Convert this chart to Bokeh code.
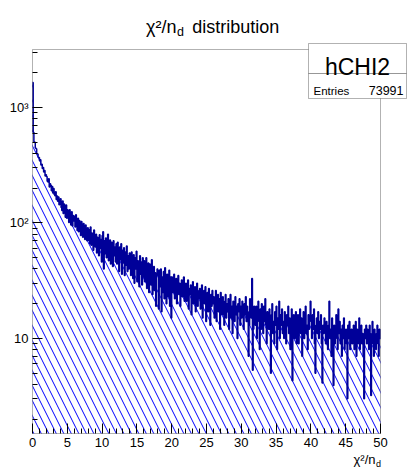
import numpy as np
from bokeh.plotting import figure
from bokeh.models import Label, BoxAnnotation, FixedTicker, Range1d
from bokeh.embed import file_html
from bokeh.resources import INLINE

# ---------------- data ----------------
x_lo = 0.0
x_hi = 50.0
y_lo = 1.5
y_hi = 3180.0
bin_counts = [
    # 0-2
    1650, 610, 505, 500, 445, 440, 400, 395, 370, 368, 345, 352, 318, 322, 296, 302, 276, 284, 255, 262,
    # 2-4
    252, 230, 226, 241, 205, 218, 212, 190, 207, 182, 199, 176, 172, 186, 160, 171, 154, 168, 144, 152,
    # 4-6
    162, 136, 128, 155, 121, 146, 131, 112, 143, 110, 130, 124, 101, 130, 118, 96, 125, 94, 116, 104,
    # 6-8
    114, 92, 118, 96, 86, 110, 84, 105, 93, 78, 103, 88, 75, 99, 84, 72, 96, 81, 70, 91,
    # 8-10
    88, 70, 66, 92, 64, 82, 76, 58, 87, 68, 62, 80, 55, 75, 70, 52, 79, 60, 72, 46,
    # 10-12
    78, 84, 40, 70, 54, 74, 50, 63, 80, 47, 60, 71, 44, 68, 55, 42, 70, 52, 62, 46,
    # 12-14
    66, 44, 68, 52, 38, 62, 48, 66, 36, 58, 45, 61, 35, 56, 43, 63, 38, 52, 40, 55,
    # 14-16
    54, 35, 56, 43, 33, 53, 30, 50, 40, 57, 31, 47, 38, 28, 52, 36, 46, 29, 50, 34,
    # 16-18
    47, 31, 42, 50, 27, 39, 45, 25, 44, 34, 29, 48, 24, 38, 42, 26, 37, 19, 36, 40,
    # 18-20
    35, 18, 39, 28, 40, 17, 34, 25, 38, 22, 41, 27, 20, 36, 30, 23, 39, 19, 34, 15,
    # 20-22
    34, 25, 31, 36, 22, 29, 33, 20, 27, 35, 24, 30, 19, 28, 32, 23, 26, 34, 21, 27,
    # 22-24
    30, 21, 25, 32, 18, 27, 24, 29, 16, 26, 31, 20, 23, 28, 17, 25, 30, 19, 22, 26,
    # 24-26
    27, 18, 24, 29, 15, 22, 26, 20, 28, 14, 23, 25, 17, 27, 21, 13, 24, 19, 26, 20,
    # 26-28
    23, 15, 21, 26, 14, 20, 24, 17, 22, 12, 25, 19, 16, 23, 18, 13, 21, 24, 15, 20,
    # 28-30
    17, 22, 12, 20, 24, 15, 19, 11, 21, 18, 14, 23, 16, 19, 10, 20, 17, 22, 13, 19,
    # 30-32
    15, 21, 18, 12, 20, 16, 23, 14, 19, 17, 7, 13, 22, 18, 15, 33, 5.3, 12, 19, 16,
    # 32-34
    13, 19, 10, 17, 21, 14, 8, 18, 12, 20, 16, 11, 19, 14, 22, 13, 9, 17, 15, 12,
    # 34-36
    18, 12, 5, 16, 20, 11, 14, 9, 17, 13, 19, 8, 15, 12, 21, 10, 16, 13, 18, 11,
    # 36-38
    14, 10, 17, 12, 9, 16, 13, 19, 11, 15, 8, 14, 18, 4.3, 12, 16, 10, 13, 17, 9,
    # 38-40
    13, 16, 9, 14, 18, 11, 15, 7, 12, 17, 10, 14, 19, 11, 13, 8, 16, 12, 15, 21,
    # 40-42
    14, 10, 16, 12, 18, 9, 5, 13, 15, 11, 17, 10, 14, 12, 16, 9, 4.1, 13, 11, 15,
    # 42-44
    12, 9, 14, 11, 8, 13, 21, 10, 12, 7, 15, 11, 3.9, 13, 9, 12, 16, 10, 8, 18,
    # 44-46
    11, 14, 9, 12, 7, 13, 10, 15, 8, 11, 12, 9, 3, 13, 10, 14, 8, 11, 12, 9,
    # 46-48
    10, 13, 8, 11, 14, 7, 12, 9, 11, 15, 8, 10, 13, 9, 11, 7, 3, 12, 10, 13,
    # 48-50
    9, 12, 10, 8, 13, 11, 3.2, 10, 14, 9, 7, 12, 10, 8, 11, 13, 9, 7, 12, 10,
]
hist_name = "hCHI2"
entries_label = "Entries"
entries_value = "73991"
x_ticks_major = [0, 5, 10, 15, 20, 25, 30, 35, 40, 45, 50]
y_ticks_major = [10, 100, 1000]
y_tick_labels = ["10", "10\u00b2", "10\u00b3"]
title_main = "\u03c7\u00b2/n"
title_sub = "d"
title_rest = "distribution"
xlabel_main = "\u03c7\u00b2/n"
xlabel_sub = "d"

# ---------------- layout geometry (pixels) ----------------
FONT = "Liberation Sans"
W, H = 407, 468
FL, FR, FT, FB = 32, 380, 49, 433   # inner plotting box

ly_lo, ly_hi = np.log10(y_lo), np.log10(y_hi)


def px_x(px):
    return x_lo + (px - FL) * (x_hi - x_lo) / (FR - FL)


def px_y(py):
    return 10 ** (ly_lo + (FB - py) * (ly_hi - ly_lo) / (FB - FT))


p = figure(width=W, height=H, y_axis_type="log", title=None,
           x_range=Range1d(px_x(0), px_x(W)), y_range=Range1d(px_y(H), px_y(0)),
           output_backend="svg", toolbar_location=None, min_border=0)
p.background_fill_color = "white"
p.border_fill_color = "white"
p.outline_line_color = None
p.xgrid.visible = False
p.ygrid.visible = False

edges = np.linspace(x_lo, x_hi, len(bin_counts) + 1)
yv = list(bin_counts) + [bin_counts[-1]]

p.varea_step(x=edges, y1=y_lo, y2=yv, step_mode="after",
             fill_alpha=0, hatch_pattern="\\", hatch_color="#0000ff",
             hatch_scale=15, hatch_weight=1)
p.step(x=edges, y=yv, mode="after", line_color="#000099", line_width=1.5)

# frame box
p.add_layout(BoxAnnotation(left=x_lo, right=x_hi, bottom=y_lo, top=y_hi,
                           fill_alpha=0, line_color="black", line_width=1))

# axes fixed at the inner box edges
p.xaxis.fixed_location = y_lo
p.yaxis.fixed_location = x_lo
minor_x = [v for v in range(int(x_lo), int(x_hi) + 1) if v % 5]
p.xaxis.ticker = FixedTicker(ticks=x_ticks_major, minor_ticks=minor_x)
minor_y = [m * 10 ** k for k in range(0, 4) for m in range(2, 10)
           if y_lo <= m * 10 ** k <= y_hi]
p.yaxis.ticker = FixedTicker(ticks=y_ticks_major, minor_ticks=minor_y)
p.yaxis.major_label_overrides = {t: l for t, l in zip(y_ticks_major, y_tick_labels)}
for ax in (p.xaxis[0], p.yaxis[0]):
    ax.major_tick_in = 10
    ax.major_tick_out = 0
    ax.minor_tick_in = 5
    ax.minor_tick_out = 0
    ax.axis_line_color = None
    ax.major_tick_line_color = "black"
    ax.minor_tick_line_color = "black"
    ax.major_label_text_font = FONT
    ax.major_label_text_font_size = "13px"
    ax.major_label_text_color = "black"
    ax.major_label_standoff = 4


def lab(text, px, py, size, align="left", level="annotation"):
    p.add_layout(Label(x=px_x(px), y=px_y(py), text=text,
                       text_font=FONT, text_font_size=size, text_color="black",
                       text_align=align, text_baseline="alphabetic", level=level))


# title
lab(title_main, 176, 26.7, "18px", align="right")
lab(title_sub, 176.5, 31.5, "12.5px")
lab(title_rest, 191.7, 26.7, "18px")

# x-axis title
lab(xlabel_main, 375, 459, "13px", align="right")
lab(xlabel_sub, 375.5, 463, "9px")

# stats box
for top_px, bot_px in ((43, 73), (73, 98)):
    p.add_layout(BoxAnnotation(left=px_x(308), right=px_x(406),
                               top=px_y(top_px), bottom=px_y(bot_px),
                               fill_color="white", fill_alpha=1,
                               line_color="black", line_width=1, level="overlay"))
lab(hist_name, 357, 66, "23px", align="center", level="overlay")
lab(entries_label, 313, 90, "11.5px", level="overlay")
lab(entries_value, 403, 90, "12.5px", align="right", level="overlay")

open("out.html", "w").write(file_html(p, INLINE))
